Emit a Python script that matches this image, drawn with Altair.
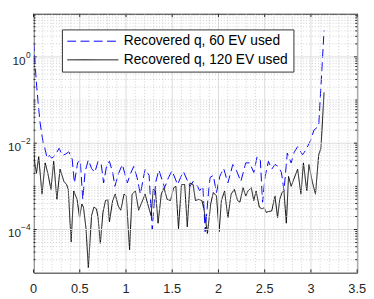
import altair as alt
import pandas as pd

# ---------------- data ----------------
series_labels = ["Recovered q, 60 EV used", "Recovered q, 120 EV used"]

x_60 = [0.000, 0.035, 0.069, 0.105, 0.119, 0.147, 0.172, 0.197, 0.232, 0.277,
        0.313, 0.347, 0.382, 0.418, 0.442, 0.477, 0.505, 0.533, 0.558, 0.593,
        0.628, 0.663, 0.698, 0.733, 0.758, 0.793, 0.821, 0.856, 0.880, 0.920,
        0.961, 1.014, 1.050, 1.084, 1.120, 1.155, 1.207, 1.250, 1.284, 1.320,
        1.355, 1.418, 1.460, 1.498, 1.558, 1.590, 1.621, 1.692, 1.726, 1.775,
        1.796, 1.832, 1.856, 1.892, 1.909, 1.944, 1.979, 2.014, 2.056, 2.102,
        2.155, 2.189, 2.242, 2.295, 2.337, 2.382, 2.418, 2.453, 2.477, 2.505,
        2.540, 2.576, 2.611, 2.646, 2.681, 2.709, 2.744, 2.786, 2.821, 2.856,
        2.909, 2.944, 2.997, 3.032, 3.084, 3.142]
q_60 = [2.2, 0.20, 0.032, 1.0e-2, 8.3e-3, 4.5e-3, 5.2e-3, 4.5e-3, 5.2e-3, 7.6e-3,
        5.2e-3, 5.6e-3, 6.3e-3, 4.3e-3, 1.2e-3, 3.5e-3, 4.1e-3, 5.0e-4, 2.2e-3, 4.1e-3,
        2.6e-3, 2.1e-3, 3.8e-3, 3.2e-3, 1.2e-3, 3.2e-3, 3.8e-3, 2.1e-3, 1.0e-3, 2.0e-3,
        3.2e-3, 1.2e-3, 2.0e-3, 2.9e-3, 1.6e-3, 6.6e-4, 2.5e-3, 1.8e-3, 9.8e-5, 1.2e-3,
        2.4e-3, 9.3e-4, 1.6e-3, 2.3e-3, 1.1e-3, 1.6e-3, 2.2e-3, 1.0e-3, 1.3e-3, 1.0e-3,
        7.9e-4, 1.0e-3, 8.9e-5, 7.1e-4, 1.6e-3, 1.8e-3, 7.2e-4, 1.7e-3, 2.6e-3, 1.2e-3,
        3.2e-3, 2.5e-3, 1.3e-3, 3.5e-3, 3.5e-3, 2.1e-3, 4.9e-3, 4.0e-3, 4.3e-4, 1.7e-3,
        3.8e-3, 2.5e-3, 3.2e-3, 2.9e-3, 2.1e-3, 7.9e-4, 5.9e-3, 3.5e-3, 6.3e-3, 8.3e-3,
        5.4e-3, 6.9e-3, 1.17e-2, 2.0e-2, 2.5e-2, 4.1]

x_120 = [0.000, 0.014, 0.032, 0.056, 0.092, 0.126, 0.155, 0.189, 0.218, 0.253,
         0.287, 0.329, 0.358, 0.376, 0.407, 0.435, 0.471, 0.498, 0.523, 0.540,
         0.568, 0.593, 0.628, 0.653, 0.681, 0.698, 0.723, 0.751, 0.779, 0.803,
         0.821, 0.856, 0.884, 0.916, 0.944, 0.979, 1.003, 1.039, 1.066, 1.102,
         1.137, 1.172, 1.207, 1.235, 1.271, 1.295, 1.319, 1.347, 1.382, 1.411,
         1.445, 1.481, 1.516, 1.540, 1.568, 1.600, 1.635, 1.663, 1.692, 1.726,
         1.751, 1.786, 1.821, 1.845, 1.881, 1.916, 1.944, 1.979, 2.007, 2.032,
         2.066, 2.102, 2.137, 2.172, 2.207, 2.232, 2.266, 2.295, 2.319, 2.355,
         2.382, 2.407, 2.442, 2.471, 2.495, 2.516, 2.540, 2.576, 2.611, 2.639,
         2.663, 2.687, 2.708, 2.734, 2.758, 2.786, 2.814, 2.856, 2.892, 2.919,
         2.955, 2.979, 3.014, 3.049, 3.084, 3.108, 3.142]
q_120 = [6.3e-3, 3.5e-3, 2.0e-3, 4.9e-3, 6.6e-4, 3.5e-3, 2.0e-3, 8.5e-4, 3.8e-3, 5.0e-4,
         2.5e-3, 1.3e-3, 1.1e-3, 8.5e-4, 5.2e-5, 7.8e-4, 5.0e-4, 1.9e-4, 3.9e-4, 3.3e-4,
         1.05e-4, 1.3e-5, 2.1e-4, 3.3e-4, 3.0e-4, 1.9e-4, 4.8e-5, 2.5e-4, 4.7e-4, 5.0e-4,
         1.5e-4, 4.7e-4, 6.6e-4, 3.5e-4, 2.8e-4, 6.6e-4, 6.0e-4, 3.4e-5, 6.6e-4, 7.8e-4,
         2.8e-4, 4.3e-4, 6.6e-4, 3.9e-4, 2.1e-4, 8.5e-4, 7.8e-4, 1.4e-4, 6.6e-4, 9.3e-4,
         5.0e-4, 4.7e-4, 9.3e-4, 1.0e-3, 1.05e-4, 1.1e-3, 1.1e-3, 1.15e-4, 1.2e-3, 1.1e-3,
         4.7e-4, 5.0e-4, 4.7e-4, 2.8e-4, 8.1e-5, 3.9e-4, 7.2e-4, 6.0e-4, 8.9e-5, 4.7e-4,
         7.8e-4, 1.9e-4, 6.6e-4, 8.5e-4, 4.7e-4, 4.3e-4, 9.3e-4, 6.0e-4, 7.8e-4, 9.3e-4,
         4.7e-4, 7.8e-4, 3.3e-4, 3.0e-4, 3.2e-4, 2.5e-4, 2.6e-4, 2.7e-4, 6.0e-4, 1.9e-4,
         5.0e-4, 7.2e-4, 7.9e-4, 1.4e-4, 1.7e-3, 1.0e-3, 1.45e-3, 2.5e-3, 6.6e-4, 3.5e-3,
         7.8e-4, 3.2e-3, 1.3e-3, 6.6e-4, 5.4e-3, 7.6e-3, 0.15]

x_ticks = [0, 0.5, 1, 1.5, 2, 2.5, 3, 3.5]
x_tick_labels = ["0", "0.5", "1", "1.5", "2", "2.5", "3", "3.5"]
x_minor = [0.1, 0.2, 0.3, 0.4, 0.6, 0.7, 0.8, 0.9, 1.1, 1.2, 1.3, 1.4, 1.6, 1.7,
           1.8, 1.9, 2.1, 2.2, 2.3, 2.4, 2.6, 2.7, 2.8, 2.9, 3.1, 3.2, 3.3, 3.4]
y_ticks = [1e-4, 1e-2, 1e0]
y_exps = ["\u22124", "\u22122", "0"]
y_minor = [k * 10.0 ** n for n in range(-5, 1) for k in range(1, 10)
           if not (k == 1 and n % 2 == 0)]
y_minor = [v for v in y_minor if 1e-5 < v < 10]

# ---------------- styling ----------------
W, H = 330, 264
FONT = "Liberation Sans"
AX = "#262626"
MAJOR_GRID = "#dcdcdc"
MINOR_GRID = "#c4c4c4"

xs = alt.Scale(domain=[0, 3.5], nice=False, zero=False)
ys = alt.Scale(type="log", domain=[1e-5, 10], nice=False)
col = alt.Scale(domain=series_labels, range=["#0000ff", "#000000"])
dash = alt.Scale(domain=series_labels, range=[[9, 4.5], [1, 0]])

df_lines = pd.concat([
    pd.DataFrame({"x": x_60, "q": q_60, "s": series_labels[0], "k": 0}),
    pd.DataFrame({"x": x_120, "q": q_120, "s": series_labels[1], "k": 1}),
], ignore_index=True)

xminor_df = pd.DataFrame({"v": x_minor})
yminor_df = pd.DataFrame({"v": y_minor})
xt_df = pd.DataFrame({"v": x_ticks, "t": x_tick_labels})
yt_df = pd.DataFrame({"v": y_ticks, "e": y_exps})

X = lambda f: alt.X(f, scale=xs, axis=None)
Y = lambda f: alt.Y(f, scale=ys, axis=None)

# major grid
major_x = alt.Chart(xt_df).mark_rule(color=MAJOR_GRID, strokeWidth=1).encode(x=X("v:Q"))
major_y = alt.Chart(yt_df).mark_rule(color=MAJOR_GRID, strokeWidth=1).encode(y=Y("v:Q"))
# minor grid (dotted)
grid_x = alt.Chart(xminor_df).mark_rule(
    color=MINOR_GRID, strokeWidth=0.8, strokeDash=[1, 2]).encode(x=X("v:Q"))
grid_y = alt.Chart(yminor_df).mark_rule(
    color=MINOR_GRID, strokeWidth=0.8, strokeDash=[1, 2]).encode(y=Y("v:Q"))

lines = alt.Chart(df_lines).mark_line(strokeWidth=1, clip=True).encode(
    x=X("x:Q"),
    y=Y("q:Q"),
    color=alt.Color("s:N", scale=col, sort=series_labels,
                    legend=alt.Legend(title=None)),
    strokeDash=alt.StrokeDash("s:N", scale=dash, sort=series_labels,
                              legend=alt.Legend(title=None)),
    detail="k:N",
    order=alt.Order("x:Q"),
)

# inward ticks (MATLAB style box)
tk = 3.3
tk_minor = 2.0
tick_layers = [
    alt.Chart(xt_df).mark_rule(color=AX).encode(
        x=X("v:Q"), y=alt.value(H), y2=alt.value(H - tk)),
    alt.Chart(xt_df).mark_rule(color=AX).encode(
        x=X("v:Q"), y=alt.value(0), y2=alt.value(tk)),
    alt.Chart(yt_df).mark_rule(color=AX).encode(
        y=Y("v:Q"), x=alt.value(0), x2=alt.value(tk)),
    alt.Chart(yt_df).mark_rule(color=AX).encode(
        y=Y("v:Q"), x=alt.value(W), x2=alt.value(W - tk)),
    alt.Chart(yminor_df).mark_rule(color=AX).encode(
        y=Y("v:Q"), x=alt.value(0), x2=alt.value(tk_minor)),
    alt.Chart(yminor_df).mark_rule(color=AX).encode(
        y=Y("v:Q"), x=alt.value(W), x2=alt.value(W - tk_minor)),
]

# x tick labels
x_labels = alt.Chart(xt_df).mark_text(
    align="center", baseline="alphabetic", fontSize=13, font=FONT, color=AX
).encode(x=X("v:Q"), y=alt.value(H + 21), text="t:N")

# y tick labels as 10 + superscript exponent
label_layers = []
exp_right = -3
for v, e in zip(y_ticks, y_exps):
    one = pd.DataFrame({"v": [v], "e": [e]})
    ew = 5.0 if len(e) == 1 else 9.6
    label_layers.append(
        alt.Chart(one).mark_text(align="right", baseline="alphabetic", fontSize=8.5,
                                 font=FONT, color=AX, dy=1).encode(
            y=Y("v:Q"), x=alt.value(exp_right), text="e:N"))
    label_layers.append(
        alt.Chart(one).mark_text(align="right", baseline="alphabetic", fontSize=12,
                                 font=FONT, color=AX, dy=8).encode(
            y=Y("v:Q"), x=alt.value(exp_right - ew), text=alt.value("10")))

chart = alt.layer(
    lines, major_x, major_y, grid_x, grid_y, *tick_layers, x_labels, *label_layers
).properties(
    width=W, height=H,
    autosize=alt.AutoSizeParams(type="none"),
    padding={"left": 26, "top": 3, "right": 9, "bottom": 24},
).configure_view(
    stroke=AX, strokeWidth=1
).configure_legend(
    orient="none", legendX=29, legendY=16,
    fillColor="white", strokeColor="#333333", padding=5, cornerRadius=0,
    symbolType="stroke", symbolSize=2704, symbolStrokeWidth=1,
    labelFontSize=14, labelFont=FONT, labelColor="#000000", labelOffset=5,
    labelLimit=0, rowPadding=5, clipHeight=14,
)

chart.save("out.html", embed_options={"renderer": "svg", "actions": False})
